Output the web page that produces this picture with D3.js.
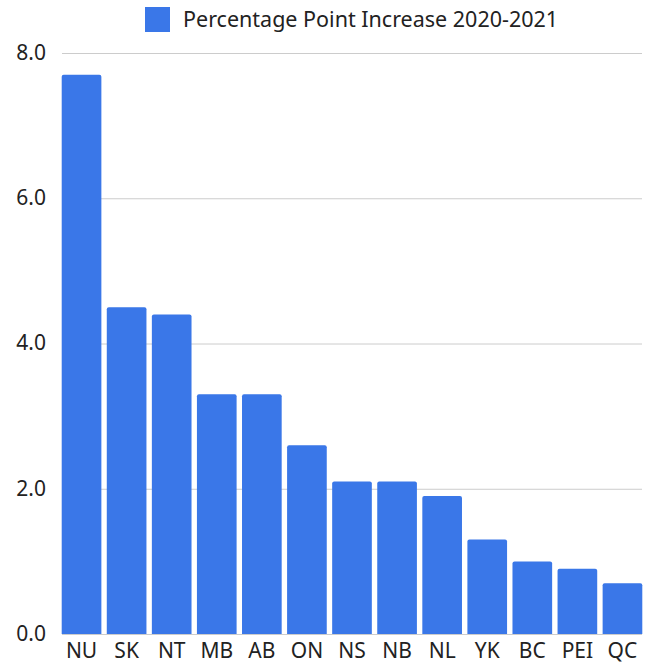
<!DOCTYPE html>
<html>
<head>
<meta charset="utf-8">
<script src="https://cdn.jsdelivr.net/npm/d3@7"></script>
<style>
  html, body { margin: 0; padding: 0; background: #fff; }
  svg { display: block; font-family: "Noto Sans", "Open Sans", sans-serif; }
</style>
</head>
<body>
<svg id="chart" width="650" height="664"></svg>
<script>
// Provinces and territories, ordered by size of increase
const provinces = ["NU", "SK", "NT", "MB", "AB", "ON", "NS", "NB", "NL", "YK", "BC", "PEI", "QC"];
const increase = [7.7, 4.5, 4.4, 3.3, 3.3, 2.6, 2.1, 2.1, 1.9, 1.3, 1.0, 0.9, 0.7];
const yTicks = [0, 2, 4, 6, 8];
const seriesName = "Percentage Point Increase 2020-2021";

const barColor = "#3a77e8";
const textColor = "#222";
const svg = d3.select("#chart");

const margin = { top: 53, right: 5, bottom: 30, left: 59 };
const width = 650, height = 664;

const x = d3.scaleBand()
  .domain(provinces)
  .range([margin.left, width - margin.right])
  .paddingInner(0.12)
  .paddingOuter(0.06);

const y = d3.scaleLinear()
  .domain([0, 8])
  .range([height - margin.bottom, margin.top]);

// Horizontal grid lines
svg.append("g")
  .selectAll("line")
  .data(yTicks)
  .join("line")
  .attr("x1", 62)
  .attr("x2", width - 8)
  .attr("y1", d => y(d) + 0.5)
  .attr("y2", d => y(d) + 0.5)
  .attr("stroke", "#cccccc")
  .attr("stroke-width", 1);

// Y axis labels
const yAxis = d3.axisLeft(y).tickValues(yTicks).tickFormat(d3.format(".1f")).tickSize(0).tickPadding(0);
const gy = svg.append("g").attr("transform", "translate(46,0)").call(yAxis);
gy.select(".domain").remove();
gy.selectAll("text")
  .attr("font-size", 21)
  .attr("fill", textColor)
  .attr("font-family", "'Noto Sans', sans-serif")
  .attr("dy", "0.3em");

// Bars with slightly rounded tops
const r = 2;
svg.append("g")
  .selectAll("path")
  .data(provinces.map((p, i) => ({ p, v: increase[i] })))
  .join("path")
  .attr("fill", barColor)
  .attr("d", d => {
    const x0 = x(d.p), w = x.bandwidth();
    const y0 = y(d.v), y1 = y(0);
    return `M${x0},${y1}V${y0 + r}Q${x0},${y0} ${x0 + r},${y0}H${x0 + w - r}Q${x0 + w},${y0} ${x0 + w},${y0 + r}V${y1}Z`;
  });

// X axis labels
const xAxis = d3.axisBottom(x).tickSize(0).tickPadding(0);
const gx = svg.append("g").attr("transform", `translate(0,${height - margin.bottom})`).call(xAxis);
gx.select(".domain").remove();
gx.selectAll("text")
  .attr("font-size", 21)
  .attr("fill", textColor)
  .attr("font-family", "'Noto Sans', sans-serif")
  .attr("y", 24)
  .attr("dy", 0);

// Legend
const legend = svg.append("g");
legend.append("rect")
  .attr("x", 145).attr("y", 7).attr("width", 25).attr("height", 25)
  .attr("fill", barColor);
legend.append("text")
  .attr("x", 183).attr("y", 27)
  .attr("font-size", 21.5)
  .attr("fill", textColor)
  .text(seriesName);
</script>
</body>
</html>
